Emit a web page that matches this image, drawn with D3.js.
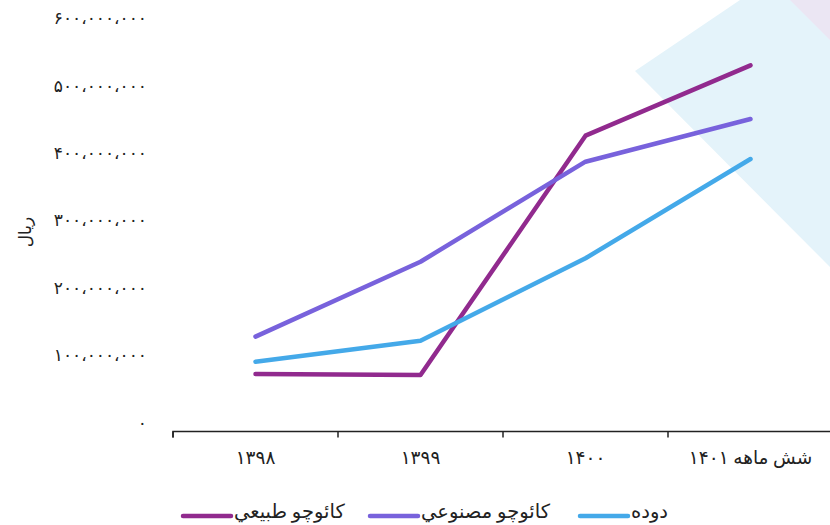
<!DOCTYPE html>
<html><head><meta charset="utf-8">
<script src="https://cdn.jsdelivr.net/npm/d3@7/dist/d3.min.js"></script>
<style>
html,body{margin:0;padding:0;background:#fff;}
svg{display:block;font-family:"Liberation Serif","DejaVu Sans",serif;}
</style></head>
<body><svg id="c" width="830" height="525"></svg>
<script>
const categories = ["۱۳۹۸", "۱۳۹۹", "۱۴۰۰", "شش ماهه ۱۴۰۱"];
const naturalRubber = [85.3e6, 83.8e6, 438.9e6, 543.3e6];
const syntheticRubber = [140.7e6, 251.9e6, 400.3e6, 463.6e6];
const carbonBlack = [103.6e6, 134.7e6, 257e6, 404.3e6];
const yTickValues = [0, 100e6, 200e6, 300e6, 400e6, 500e6, 600e6];
const yTickLabels = ["۰", "۱۰۰،۰۰۰،۰۰۰", "۲۰۰،۰۰۰،۰۰۰", "۳۰۰،۰۰۰،۰۰۰", "۴۰۰،۰۰۰،۰۰۰", "۵۰۰،۰۰۰،۰۰۰", "۶۰۰،۰۰۰،۰۰۰"];
const seriesNames = ["کائوچو طبیعي", "کائوچو مصنوعي", "دوده"];
const seriesColors = ["#912a8e", "#7862dc", "#44a9e9"];
const yTitle = "ریال";

const svg = d3.select("#c");

// decorative background shapes
svg.append("polygon").attr("points", "635,71 740,0 830,0 830,267").attr("fill", "#e4f3fa");
svg.append("polygon").attr("points", "790,0 830,0 830,40").attr("fill", "#ebe6f3");

const x = d3.scaleBand().domain(categories).range([173, 833]);
const y = d3.scaleLinear().domain([0, 600e6]).range([431.5, 27.1]);

// y axis labels (no line)
const yAxis = d3.axisLeft(y).tickValues(yTickValues)
  .tickFormat((d, i) => yTickLabels[i]).tickSize(0).tickPadding(0);
const gy = svg.append("g").attr("transform", "translate(147,0)").call(yAxis);
gy.select(".domain").remove();
gy.selectAll("text").attr("font-size", 17).attr("fill", "#222").attr("dy", "-0.2em")
  .style("font-family", '"Liberation Serif","DejaVu Sans",serif');

// x axis
const xAxis = d3.axisBottom(x).tickSizeOuter(0).tickSize(6).tickPadding(13);
const gx = svg.append("g").attr("transform", "translate(0,431.5)").call(xAxis);
gx.select(".domain").attr("stroke", "#222").attr("stroke-width", 1.5)
  .attr("d", `M${x.range()[0]},6V0H${x.range()[1]}`);
gx.selectAll(".tick line").attr("stroke", "#222").attr("stroke-width", 1.5)
  .attr("transform", d => `translate(${-x.bandwidth()/2},0)`);
gx.selectAll("text").attr("font-size", 18.5).attr("fill", "#222")
  .style("font-family", '"Liberation Serif","DejaVu Sans",serif');

// y title
svg.append("text").attr("transform", "translate(31,232) rotate(-90)")
  .attr("text-anchor", "middle").attr("font-size", 17).attr("fill", "#222").text(yTitle);

const series = [naturalRubber, syntheticRubber, carbonBlack];
const line = d3.line().x((d, i) => x(categories[i]) + x.bandwidth()/2).y(d => y(d));
series.forEach((s, k) => {
  svg.append("path").datum(s).attr("d", line).attr("fill", "none")
    .attr("stroke", seriesColors[k]).attr("stroke-width", 4.5)
    .attr("stroke-linecap", "round").attr("stroke-linejoin", "round");
});

// legend
const legX = [183, 370, 580];
seriesNames.forEach((n, k) => {
  const g = svg.append("g").attr("transform", `translate(${legX[k]},516)`);
  g.append("line").attr("x1", 0).attr("x2", 48).attr("y1", 0).attr("y2", 0)
    .attr("stroke", seriesColors[k]).attr("stroke-width", 4.5).attr("stroke-linecap", "round");
  g.append("text").attr("x", 51).attr("y", 0).attr("dy", "0.1em").attr("font-size", 19.5)
    .attr("fill", "#222").attr("text-anchor", "start").text(n);
});
</script></body></html>
